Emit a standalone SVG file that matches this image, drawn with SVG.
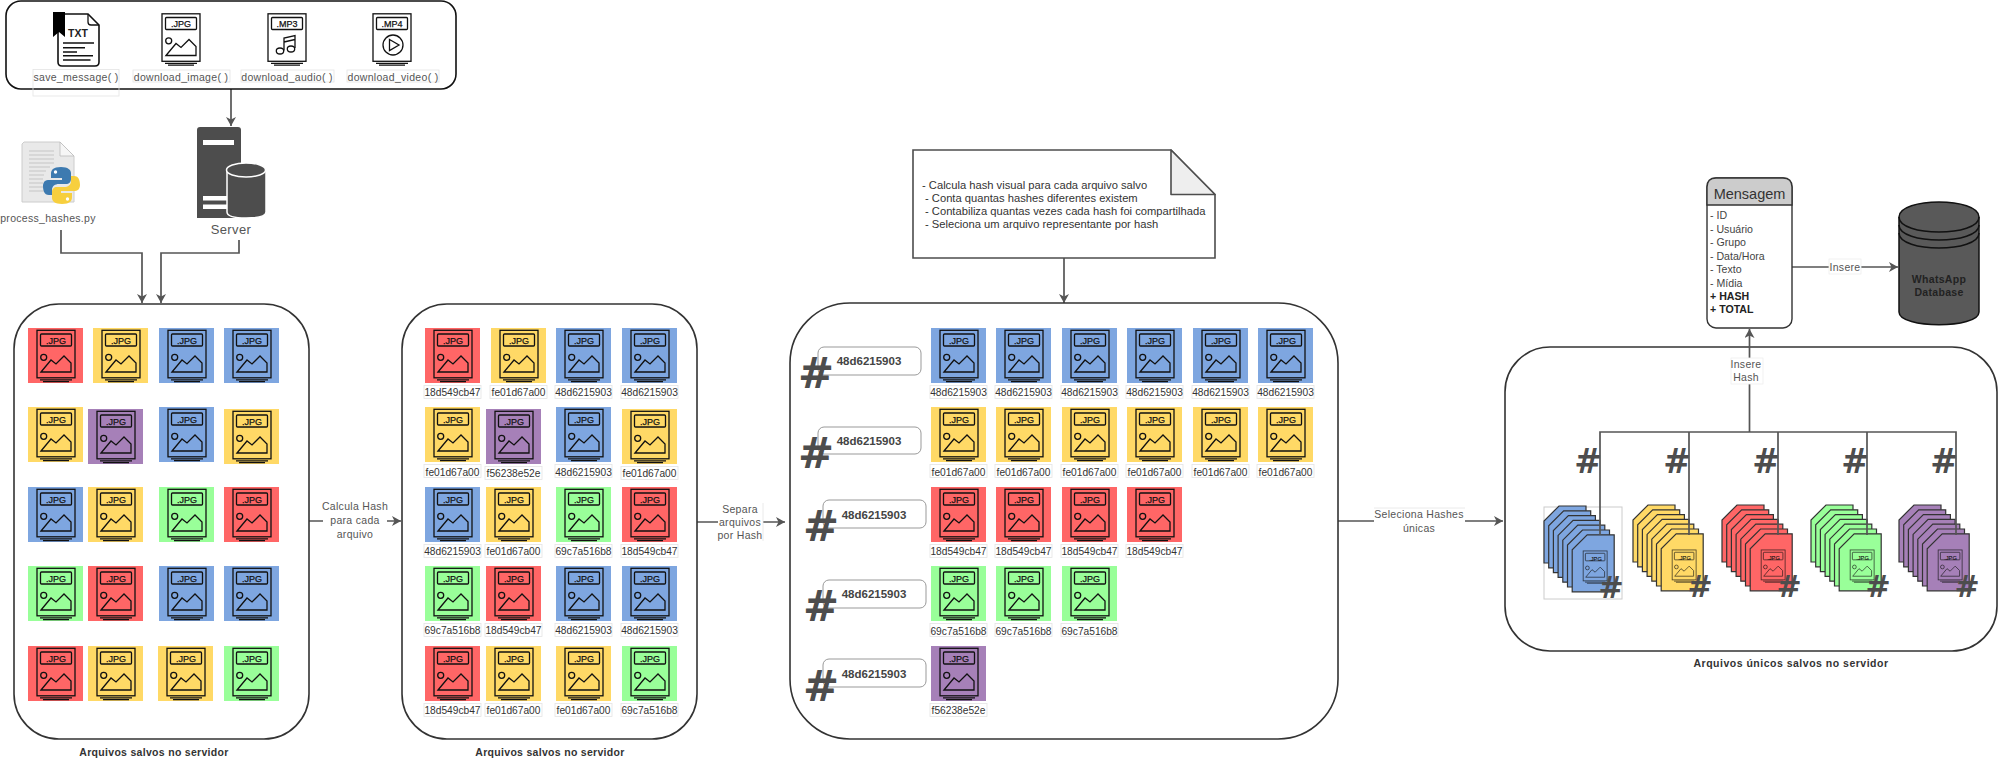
<svg xmlns="http://www.w3.org/2000/svg" width="1999" height="759" viewBox="0 0 1999 759">
<style>
text{font-family:"Liberation Sans",Arial,sans-serif}
.r{fill:#FF6666}.y{fill:#FFD966}.b{fill:#7EA6E0}.g{fill:#99FF99}.p{fill:#A680B8}
.panel{fill:#fff;stroke:#333;stroke-width:1.6}
.ln{fill:none;stroke:#555;stroke-width:1.7}
.ic{fill:none;stroke:#111;stroke-width:1.3}
.j{font-size:9px;text-anchor:middle;fill:#111;stroke:#111;stroke-width:.25px}
.js{font-size:5.7px;stroke-width:.1px}
.h{font-size:10.2px;text-anchor:middle;fill:#333}
.cap{font-size:10.5px;text-anchor:middle;fill:#555;letter-spacing:.3px}
.lbl{font-size:10.5px;text-anchor:middle;fill:#555;letter-spacing:.3px}
.tt{font-size:10.5px;font-weight:bold;text-anchor:middle;fill:#333;letter-spacing:.3px}
.hl{font-size:11.5px;font-weight:bold;text-anchor:middle;fill:#444}
.nt{font-size:11.2px;fill:#333}
.f{font-size:10.6px;fill:#444}
.hs{font-family:"DejaVu Sans",sans-serif;font-weight:bold;fill:#4d4d4d;text-anchor:middle}
.fn{fill:none;stroke:#e4e4e4;stroke-width:.8}
</style>
<defs>
<marker id="ar" markerUnits="userSpaceOnUse" markerWidth="12" markerHeight="12" refX="9" refY="5" orient="auto"><path d="M0 0L9 5L0 10L2.5 5Z" fill="#555"/></marker>
<g id="fr"><rect x="9" y="2.3" width="38" height="47.5" class="ic"/><rect x="12.5" y="6" width="31" height="12" rx="1" class="ic"/><path d="M12 51.8H44M15 53.6H41" class="ic"/></g>
<g id="mt"><circle cx="15.7" cy="29.3" r="3" class="ic"/><path d="M13 44L23 32L28 36L36 28L43 35V44Z" class="ic"/></g>
<g id="t"><rect width="55" height="55"/><use href="#fr"/><use href="#mt"/></g>
<g id="tl"><rect x="-1" y="57.5" width="57" height="13" class="fn"/><use href="#t"/></g>
<path id="d" d="M15 0H42V57H0V15Z" stroke="#333" stroke-width="1.2"/>
<g id="st"><use href="#d"/><use href="#d" x="4.7" y="4.8"/><use href="#d" x="9.4" y="9.6"/><use href="#d" x="14.1" y="14.4"/><use href="#d" x="18.8" y="19.2"/><use href="#d" x="23.5" y="24"/><use href="#d" x="28.2" y="28.8"/><g transform="translate(33.5 43.5) scale(.63)" opacity=".75"><use href="#fr"/><use href="#mt"/></g></g>
</defs>

<g id="connectors">
<path class="ln" d="M231 89V126" marker-end="url(#ar)"/>
<path class="ln" d="M61 230V253H142V303" marker-end="url(#ar)"/>
<path class="ln" d="M239 240V253H161V303" marker-end="url(#ar)"/>
<path class="ln" d="M309 521H401" marker-end="url(#ar)"/>
<path class="ln" d="M697 522H785" marker-end="url(#ar)"/>
<path class="ln" d="M1064 258V303" marker-end="url(#ar)"/>
<path class="ln" d="M1338 521H1503" marker-end="url(#ar)"/>
<path class="ln" d="M1792 267H1898" marker-end="url(#ar)"/>
</g>

<g id="top-panel">
<rect x="6" y="1" width="450" height="88" rx="15" fill="#fff" stroke="#111" stroke-width="1.6"/>
<g id="file-txt">
<path d="M88 14H61Q58 14 58 17V62Q58 66 62 66H95Q99 66 99 62V25Z" fill="none" stroke="#111" stroke-width="1.6"/><path d="M88 14V22Q88 25 91 25H99" fill="none" stroke="#111" stroke-width="1.3"/>
<path d="M53 12H65V37L59 32L53 37Z" fill="#000"/>
<path d="M63 43H94M63 47.7H85M63 52H77M63 55.7H93M63 60H90.5" stroke="#111" stroke-width="1.4"/>
<text x="78" y="37" font-size="10.5" font-weight="bold" text-anchor="middle" fill="#222">TXT</text>
</g>
<rect x="33" y="69.5" width="86" height="26.5" class="fn"/>
<text class="cap" x="76" y="81">save_message( )</text>
<g id="file-jpg"><g transform="translate(153 11.5)"><use href="#fr"/><use href="#mt"/><text class="j" x="28" y="15.5">.JPG</text></g>
<rect x="133" y="70" width="97" height="12" class="fn"/><text class="cap" x="181" y="81">download_image( )</text></g>
<g id="file-mp3"><g transform="translate(259 11.5)"><use href="#fr"/><text class="j" x="28" y="15.5">.MP3</text></g>
<path d="M284 50.5V38L295 35.5V48M284 42L295 39.5" class="ic"/><ellipse cx="280" cy="51" rx="3.7" ry="3" class="ic"/><ellipse cx="291" cy="49" rx="3.7" ry="3" class="ic"/>
<rect x="241" y="70" width="93" height="12" class="fn"/><text class="cap" x="287" y="81">download_audio( )</text></g>
<g id="file-mp4"><g transform="translate(364 11.5)"><use href="#fr"/><text class="j" x="28" y="15.5">.MP4</text></g>
<circle cx="393" cy="45" r="10" class="ic"/><path d="M389.5 39.5L399 45L389.5 50.5Z" class="ic"/>
<rect x="347" y="70" width="92" height="12" class="fn"/><text class="cap" x="393" y="81">download_video( )</text></g>
</g>

<g id="python-script">
<path d="M24 142H60L74 156V202H22V144Z" fill="#e9e9e9" stroke="#ccc"/><path d="M60 142V156H74Z" fill="#f6f6f6" stroke="#bbb" stroke-width=".8"/>
<path d="M29 151H54M29 155H54M29 159H54M29 163H54M29 167H50M29 171H46M29 175H44M29 179H43M29 183H43M29 187H43M29 191H44" stroke="#c6c6c6" stroke-width="1.2"/>
<path d="M61 167C53 167 51 170 51 174V178H62V180H48C44 180 43 184 43 186C43 190 44 195 49 195H52V190C52 186 55 184 59 184H66C69 184 71 182 71 179V173C71 170 68 167 61 167Z" fill="#3d7ab0"/><circle cx="55.5" cy="172" r="1.7" fill="#fff"/>
<g transform="rotate(180 61.5 185.5)"><path d="M61 167C53 167 51 170 51 174V178H62V180H48C44 180 43 184 43 186C43 190 44 195 49 195H52V190C52 186 55 184 59 184H66C69 184 71 182 71 179V173C71 170 68 167 61 167Z" fill="#f7cf3e"/><circle cx="55.5" cy="172" r="1.7" fill="#fff"/></g>
<text class="cap" x="48" y="222">process_hashes.py</text>
</g>

<g id="server">
<path d="M200 127H238Q241 127 241 130V218H197V130Q197 127 200 127Z" fill="#4d4d4d"/>
<rect x="203" y="140" width="31" height="5" fill="#fff"/><rect x="203" y="196" width="24" height="4.5" fill="#fff"/><rect x="203" y="204.5" width="24" height="4.5" fill="#fff"/>
<path d="M227 170V212Q227 218 246 218Q266 218 266 212V170Z" fill="#4d4d4d" stroke="#fff" stroke-width="1.5"/><ellipse cx="246" cy="170" rx="19.5" ry="7" fill="#4d4d4d" stroke="#fff" stroke-width="1.5"/>
<text x="231" y="234" font-size="13" text-anchor="middle" fill="#555" letter-spacing=".4">Server</text>
</g>

<g id="panel-1">
<rect class="panel" x="14" y="304" width="295" height="435" rx="45"/>
<g id="a11" transform="translate(28 328)"><use href="#t" class="r"/><text class="j" x="28" y="15.7">.JPG</text></g>
<g id="a12" transform="translate(93 328)"><use href="#t" class="y"/><text class="j" x="28" y="15.7">.JPG</text></g>
<g id="a13" transform="translate(159 328)"><use href="#t" class="b"/><text class="j" x="28" y="15.7">.JPG</text></g>
<g id="a14" transform="translate(224 328)"><use href="#t" class="b"/><text class="j" x="28" y="15.7">.JPG</text></g>
<g id="a21" transform="translate(28 407)"><use href="#t" class="y"/><text class="j" x="28" y="15.7">.JPG</text></g>
<g id="a22" transform="translate(88 409)"><use href="#t" class="p"/><text class="j" x="28" y="15.7">.JPG</text></g>
<g id="a23" transform="translate(159 407)"><use href="#t" class="b"/><text class="j" x="28" y="15.7">.JPG</text></g>
<g id="a24" transform="translate(224 409)"><use href="#t" class="y"/><text class="j" x="28" y="15.7">.JPG</text></g>
<g id="a31" transform="translate(28 487)"><use href="#t" class="b"/><text class="j" x="28" y="15.7">.JPG</text></g>
<g id="a32" transform="translate(88 487)"><use href="#t" class="y"/><text class="j" x="28" y="15.7">.JPG</text></g>
<g id="a33" transform="translate(159 487)"><use href="#t" class="g"/><text class="j" x="28" y="15.7">.JPG</text></g>
<g id="a34" transform="translate(224 487)"><use href="#t" class="r"/><text class="j" x="28" y="15.7">.JPG</text></g>
<g id="a41" transform="translate(28 566)"><use href="#t" class="g"/><text class="j" x="28" y="15.7">.JPG</text></g>
<g id="a42" transform="translate(88 566)"><use href="#t" class="r"/><text class="j" x="28" y="15.7">.JPG</text></g>
<g id="a43" transform="translate(159 566)"><use href="#t" class="b"/><text class="j" x="28" y="15.7">.JPG</text></g>
<g id="a44" transform="translate(224 566)"><use href="#t" class="b"/><text class="j" x="28" y="15.7">.JPG</text></g>
<g id="a51" transform="translate(28 646)"><use href="#t" class="r"/><text class="j" x="28" y="15.7">.JPG</text></g>
<g id="a52" transform="translate(88 646)"><use href="#t" class="y"/><text class="j" x="28" y="15.7">.JPG</text></g>
<g id="a53" transform="translate(158 646)"><use href="#t" class="y"/><text class="j" x="28" y="15.7">.JPG</text></g>
<g id="a54" transform="translate(224 646)"><use href="#t" class="g"/><text class="j" x="28" y="15.7">.JPG</text></g>
<text class="tt" x="154" y="755.5">Arquivos salvos no servidor</text>
</g>

<g id="panel-2">
<rect class="panel" x="402" y="304" width="295" height="435" rx="45"/>
<g id="b11" transform="translate(425 328)"><use href="#tl" class="r"/><text class="j" x="28" y="15.7">.JPG</text><text class="h" x="27.5" y="67.7">18d549cb47</text></g>
<g id="b12" transform="translate(491 328)"><use href="#tl" class="y"/><text class="j" x="28" y="15.7">.JPG</text><text class="h" x="27.5" y="67.7">fe01d67a00</text></g>
<g id="b13" transform="translate(556 328)"><use href="#tl" class="b"/><text class="j" x="28" y="15.7">.JPG</text><text class="h" x="27.5" y="67.7">48d6215903</text></g>
<g id="b14" transform="translate(622 328)"><use href="#tl" class="b"/><text class="j" x="28" y="15.7">.JPG</text><text class="h" x="27.5" y="67.7">48d6215903</text></g>
<g id="b21" transform="translate(425 407)"><use href="#tl" class="y"/><text class="j" x="28" y="15.7">.JPG</text><text class="h" x="27.5" y="68.7">fe01d67a00</text></g>
<g id="b22" transform="translate(486 409)"><use href="#tl" class="p"/><text class="j" x="28" y="15.7">.JPG</text><text class="h" x="27.5" y="67.7">f56238e52e</text></g>
<g id="b23" transform="translate(556 407)"><use href="#tl" class="b"/><text class="j" x="28" y="15.7">.JPG</text><text class="h" x="27.5" y="68.7">48d6215903</text></g>
<g id="b24" transform="translate(622 409)"><use href="#tl" class="y"/><text class="j" x="28" y="15.7">.JPG</text><text class="h" x="27.5" y="67.7">fe01d67a00</text></g>
<g id="b31" transform="translate(425 487)"><use href="#tl" class="b"/><text class="j" x="28" y="15.7">.JPG</text><text class="h" x="27.5" y="67.7">48d6215903</text></g>
<g id="b32" transform="translate(486 487)"><use href="#tl" class="y"/><text class="j" x="28" y="15.7">.JPG</text><text class="h" x="27.5" y="67.7">fe01d67a00</text></g>
<g id="b33" transform="translate(556 487)"><use href="#tl" class="g"/><text class="j" x="28" y="15.7">.JPG</text><text class="h" x="27.5" y="67.7">69c7a516b8</text></g>
<g id="b34" transform="translate(622 487)"><use href="#tl" class="r"/><text class="j" x="28" y="15.7">.JPG</text><text class="h" x="27.5" y="67.7">18d549cb47</text></g>
<g id="b41" transform="translate(425 566)"><use href="#tl" class="g"/><text class="j" x="28" y="15.7">.JPG</text><text class="h" x="27.5" y="67.7">69c7a516b8</text></g>
<g id="b42" transform="translate(486 566)"><use href="#tl" class="r"/><text class="j" x="28" y="15.7">.JPG</text><text class="h" x="27.5" y="67.7">18d549cb47</text></g>
<g id="b43" transform="translate(556 566)"><use href="#tl" class="b"/><text class="j" x="28" y="15.7">.JPG</text><text class="h" x="27.5" y="67.7">48d6215903</text></g>
<g id="b44" transform="translate(622 566)"><use href="#tl" class="b"/><text class="j" x="28" y="15.7">.JPG</text><text class="h" x="27.5" y="67.7">48d6215903</text></g>
<g id="b51" transform="translate(425 646)"><use href="#tl" class="r"/><text class="j" x="28" y="15.7">.JPG</text><text class="h" x="27.5" y="67.7">18d549cb47</text></g>
<g id="b52" transform="translate(486 646)"><use href="#tl" class="y"/><text class="j" x="28" y="15.7">.JPG</text><text class="h" x="27.5" y="67.7">fe01d67a00</text></g>
<g id="b53" transform="translate(556 646)"><use href="#tl" class="y"/><text class="j" x="28" y="15.7">.JPG</text><text class="h" x="27.5" y="67.7">fe01d67a00</text></g>
<g id="b54" transform="translate(622 646)"><use href="#tl" class="g"/><text class="j" x="28" y="15.7">.JPG</text><text class="h" x="27.5" y="67.7">69c7a516b8</text></g>
<text class="tt" x="550" y="755.5">Arquivos salvos no servidor</text>
</g>

<g id="label-calcula"><rect x="323" y="499" width="64" height="44" fill="#fff"/><text class="lbl" x="355" y="510">Calcula Hash</text><text class="lbl" x="355" y="523.5">para cada</text><text class="lbl" x="355" y="538">arquivo</text></g>
<g id="label-separa"><rect x="718" y="503" width="45" height="40" fill="#fff"/><path d="M763 503V541" class="fn"/><text class="lbl" x="740" y="513">Separa</text><text class="lbl" x="740" y="526">arquivos</text><text class="lbl" x="740" y="539">por Hash</text></g>

<g id="note">
<path d="M913 150H1171L1215 194.5V258H913Z" fill="#fff" stroke="#4d4d4d" stroke-width="1.6"/>
<path d="M1171 150V194.5H1215Z" fill="#eee" stroke="#4d4d4d" stroke-width="1.6" stroke-linejoin="round"/>
<text class="nt" x="922" y="189">- Calcula hash visual para cada arquivo salvo</text>
<text class="nt" x="925" y="202">- Conta quantas hashes diferentes existem</text>
<text class="nt" x="925" y="215">- Contabiliza quantas vezes cada hash foi compartilhada</text>
<text class="nt" x="925" y="228">- Seleciona um arquivo representante por hash</text>
</g>

<g id="panel-3">
<rect class="panel" x="790" y="303" width="548" height="436" rx="60"/>
<g id="h1"><rect x="818" y="347" width="103" height="28" rx="6" fill="#fff" stroke="#999"/><text class="hl" x="869" y="365">48d6215903</text><text class="hs" x="816" y="388" font-size="43">#</text></g>
<g id="h2"><rect x="818" y="427" width="103" height="27" rx="6" fill="#fff" stroke="#999"/><text class="hl" x="869" y="445">48d6215903</text><text class="hs" x="816" y="468" font-size="43">#</text></g>
<g id="h3"><rect x="823" y="500" width="103" height="28" rx="6" fill="#fff" stroke="#999"/><text class="hl" x="874" y="519">48d6215903</text><text class="hs" x="821" y="541" font-size="43">#</text></g>
<g id="h4"><rect x="823" y="580" width="103" height="28" rx="6" fill="#fff" stroke="#999"/><text class="hl" x="874" y="598">48d6215903</text><text class="hs" x="821" y="621" font-size="43">#</text></g>
<g id="h5"><rect x="823" y="659" width="103" height="28" rx="6" fill="#fff" stroke="#999"/><text class="hl" x="874" y="678">48d6215903</text><text class="hs" x="821" y="701" font-size="43">#</text></g>
<g id="c11" transform="translate(931 328)"><use href="#tl" class="b"/><text class="j" x="28" y="15.7">.JPG</text><text class="h" x="27.5" y="67.7">48d6215903</text></g>
<g id="c12" transform="translate(996 328)"><use href="#tl" class="b"/><text class="j" x="28" y="15.7">.JPG</text><text class="h" x="27.5" y="67.7">48d6215903</text></g>
<g id="c13" transform="translate(1062 328)"><use href="#tl" class="b"/><text class="j" x="28" y="15.7">.JPG</text><text class="h" x="27.5" y="67.7">48d6215903</text></g>
<g id="c14" transform="translate(1127 328)"><use href="#tl" class="b"/><text class="j" x="28" y="15.7">.JPG</text><text class="h" x="27.5" y="67.7">48d6215903</text></g>
<g id="c15" transform="translate(1193 328)"><use href="#tl" class="b"/><text class="j" x="28" y="15.7">.JPG</text><text class="h" x="27.5" y="67.7">48d6215903</text></g>
<g id="c16" transform="translate(1258 328)"><use href="#tl" class="b"/><text class="j" x="28" y="15.7">.JPG</text><text class="h" x="27.5" y="67.7">48d6215903</text></g>
<g id="c21" transform="translate(931 407)"><use href="#tl" class="y"/><text class="j" x="28" y="15.7">.JPG</text><text class="h" x="27.5" y="68.7">fe01d67a00</text></g>
<g id="c22" transform="translate(996 407)"><use href="#tl" class="y"/><text class="j" x="28" y="15.7">.JPG</text><text class="h" x="27.5" y="68.7">fe01d67a00</text></g>
<g id="c23" transform="translate(1062 407)"><use href="#tl" class="y"/><text class="j" x="28" y="15.7">.JPG</text><text class="h" x="27.5" y="68.7">fe01d67a00</text></g>
<g id="c24" transform="translate(1127 407)"><use href="#tl" class="y"/><text class="j" x="28" y="15.7">.JPG</text><text class="h" x="27.5" y="68.7">fe01d67a00</text></g>
<g id="c25" transform="translate(1193 407)"><use href="#tl" class="y"/><text class="j" x="28" y="15.7">.JPG</text><text class="h" x="27.5" y="68.7">fe01d67a00</text></g>
<g id="c26" transform="translate(1258 407)"><use href="#tl" class="y"/><text class="j" x="28" y="15.7">.JPG</text><text class="h" x="27.5" y="68.7">fe01d67a00</text></g>
<g id="c31" transform="translate(931 487)"><use href="#tl" class="r"/><text class="j" x="28" y="15.7">.JPG</text><text class="h" x="27.5" y="67.7">18d549cb47</text></g>
<g id="c32" transform="translate(996 487)"><use href="#tl" class="r"/><text class="j" x="28" y="15.7">.JPG</text><text class="h" x="27.5" y="67.7">18d549cb47</text></g>
<g id="c33" transform="translate(1062 487)"><use href="#tl" class="r"/><text class="j" x="28" y="15.7">.JPG</text><text class="h" x="27.5" y="67.7">18d549cb47</text></g>
<g id="c34" transform="translate(1127 487)"><use href="#tl" class="r"/><text class="j" x="28" y="15.7">.JPG</text><text class="h" x="27.5" y="67.7">18d549cb47</text></g>
<g id="c41" transform="translate(931 566)"><use href="#tl" class="g"/><text class="j" x="28" y="15.7">.JPG</text><text class="h" x="27.5" y="68.7">69c7a516b8</text></g>
<g id="c42" transform="translate(996 566)"><use href="#tl" class="g"/><text class="j" x="28" y="15.7">.JPG</text><text class="h" x="27.5" y="68.7">69c7a516b8</text></g>
<g id="c43" transform="translate(1062 566)"><use href="#tl" class="g"/><text class="j" x="28" y="15.7">.JPG</text><text class="h" x="27.5" y="68.7">69c7a516b8</text></g>
<g id="c51" transform="translate(931 646)"><use href="#tl" class="p"/><text class="j" x="28" y="15.7">.JPG</text><text class="h" x="27.5" y="67.7">f56238e52e</text></g>
</g>

<g id="label-seleciona"><rect x="1374" y="508" width="91" height="26" fill="#fff"/><path d="M1374 508H1465" class="fn"/><text class="lbl" x="1419" y="518">Seleciona Hashes</text><text class="lbl" x="1419" y="532">únicas</text></g>

<g id="panel-4">
<rect class="panel" x="1505" y="347" width="492" height="304" rx="45"/>
<rect x="1544" y="507" width="78" height="92" fill="none" stroke="#ccc"/>
<g id="s1" transform="translate(1544 506)" class="b"><use href="#st"/><text class="j js" x="51.5" y="55">.JPG</text></g>
<g id="s2" transform="translate(1633 505)" class="y"><use href="#st"/><text class="j js" x="51.5" y="55">.JPG</text></g>
<g id="s3" transform="translate(1722 505)" class="r"><use href="#st"/><text class="j js" x="51.5" y="55">.JPG</text></g>
<g id="s4" transform="translate(1811 505)" class="g"><use href="#st"/><text class="j js" x="51.5" y="55">.JPG</text></g>
<g id="s5" transform="translate(1899 505)" class="p"><use href="#st"/><text class="j js" x="51.5" y="55">.JPG</text></g>
<path class="ln" d="M1600 535V432H1956V535M1689 432V535M1778 432V535M1867 432V535" stroke-width="1.8"/>
<path class="ln" d="M1749.5 432V329" marker-end="url(#ar)"/>
<g id="label-insere-hash"><rect x="1731" y="358" width="32" height="26" fill="#fff" stroke="#eee" stroke-width=".8"/><text class="lbl" x="1746" y="368">Insere</text><text class="lbl" x="1746" y="381">Hash</text></g>
<text class="hs" x="1588" y="473" font-size="33">#</text><text class="hs" x="1677" y="473" font-size="33">#</text><text class="hs" x="1766" y="473" font-size="33">#</text><text class="hs" x="1855" y="473" font-size="33">#</text><text class="hs" x="1944" y="473" font-size="33">#</text>
<text class="hs" x="1611" y="598" font-size="30">#</text><text class="hs" x="1700" y="597" font-size="30">#</text><text class="hs" x="1789" y="597" font-size="30">#</text><text class="hs" x="1878" y="597" font-size="30">#</text><text class="hs" x="1967" y="597" font-size="30">#</text>
<text class="tt" x="1791" y="667" style="letter-spacing:.5px">Arquivos únicos salvos no servidor</text>
</g>

<g id="mensagem">
<rect x="1707" y="178" width="85" height="150" rx="9" fill="#fff" stroke="#333" stroke-width="1.4"/>
<path d="M1707 205V187Q1707 178 1716 178H1783Q1792 178 1792 187V205Z" fill="#ccc" stroke="#333" stroke-width="1.4"/>
<text x="1749.5" y="199" font-size="14.5" text-anchor="middle" fill="#333">Mensagem</text>
<text class="f" x="1710" y="218.5">- ID</text><text class="f" x="1710" y="232.5">- Usuário</text><text class="f" x="1710" y="246">- Grupo</text><text class="f" x="1710" y="259.5">- Data/Hora</text><text class="f" x="1710" y="273">- Texto</text><text class="f" x="1710" y="286.5">- Mídia</text><text class="f" x="1710" y="299.5" font-weight="bold" style="fill:#222">+ HASH</text><text class="f" x="1710" y="313" font-weight="bold" style="fill:#222">+ TOTAL</text>
</g>
<g id="label-insere"><rect x="1829" y="259" width="32" height="15" fill="#fff" stroke="#eee" stroke-width=".8"/><text class="lbl" x="1845" y="271">Insere</text></g>
<g id="database">
<path d="M1899 217C1899 197 1979 197 1979 217V312C1979 329 1899 329 1899 312Z" fill="#595959" stroke="#111" stroke-width="1.5"/>
<path d="M1899 217C1899 237 1979 237 1979 217M1899 225C1899 245 1979 245 1979 225M1899 233C1899 253 1979 253 1979 233" fill="none" stroke="#111" stroke-width="1.5"/>
<text class="tt" x="1939" y="283" style="fill:#222">WhatsApp</text><text class="tt" x="1939" y="296" style="fill:#222">Database</text>
</g>
</svg>
